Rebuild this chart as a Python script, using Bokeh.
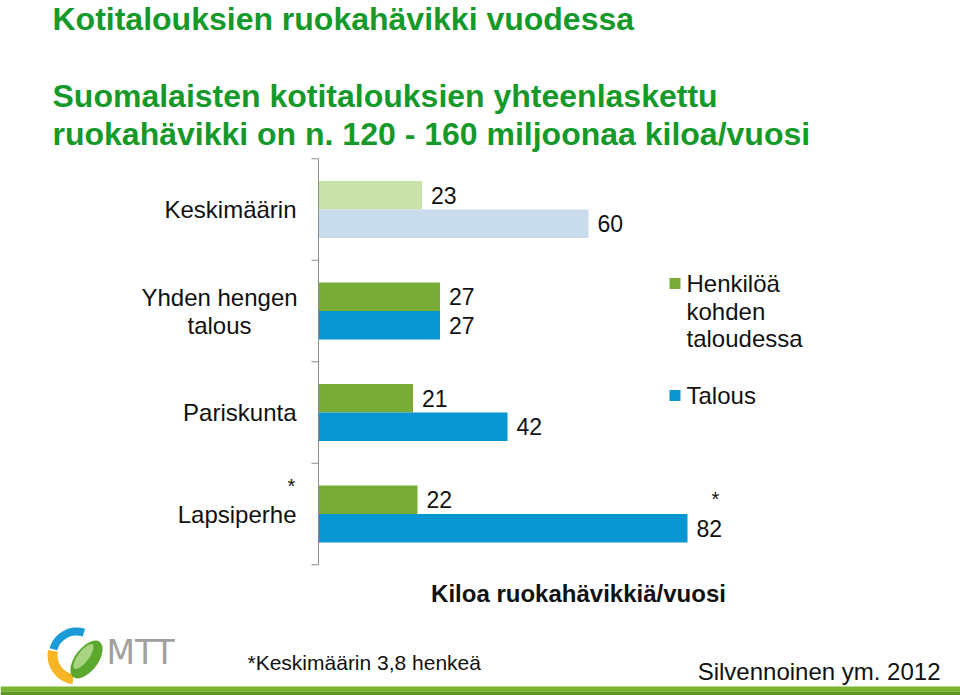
import numpy as np
from bokeh.plotting import figure
from bokeh.models import Range1d
from bokeh.core.properties import value
from bokeh.embed import file_html
from bokeh.resources import INLINE

# ---------------- data ----------------
categories = ["Keskimäärin", "Yhden hengen\ntalous", "Pariskunta", "Lapsiperhe"]
per_person = [23, 27, 21, 22]          # Henkilöä kohden taloudessa
household = [60, 27, 42, 82]           # Talous
category_notes = ["", "", "", "*"]
household_notes = ["", "", "", "*"]
series_names = ["Henkilöä\nkohden\ntaloudessa", "Talous"]
title = "Kotitalouksien ruokahävikki vuodessa"
subtitle = ["Suomalaisten kotitalouksien yhteenlaskettu",
            "ruokahävikki on n. 120 - 160 miljoonaa kiloa/vuosi"]
axis_title = "Kiloa ruokahävikkiä/vuosi"
footnote = "*Keskimäärin 3,8 henkeä"
source = "Silvennoinen ym. 2012"
logo_text = "MTT"

# ---------------- styles ----------------
person_colors = ["#c9e2a9", "#78ac37", "#78ac37", "#78ac37"]
household_colors = ["#c9dcec", "#0896d3", "#0896d3", "#0896d3"]
TITLE_GREEN = "#16992b"
TXT = "#111111"
FONT = value("Liberation Sans")

W, H = 960, 695
AX_PX = 318.0      # pixel x of value 0
PPU = 4.5          # pixels per kilo
CAT0 = 209.0       # pixel y of first category centre
BAND = 101.5       # pixel height of a category band


def X(px):
    return (px - AX_PX) / PPU


def Y(py):
    return (py - CAT0) / BAND


p = figure(width=W, height=H,
           x_range=Range1d(X(0), X(W)), y_range=Range1d(Y(H), Y(0)),
           output_backend="svg", toolbar_location=None,
           x_axis_location=None, y_axis_location=None,
           min_border=0, outline_line_color=None)
p.grid.visible = False
p.background_fill_color = "white"
p.border_fill_color = "white"

n = len(categories)
idx = np.arange(n, dtype=float)
OFF = 0.1405
BH = 0.281

# bars
p.hbar(y=idx - OFF, left=0, right=per_person, height=BH,
       fill_color=person_colors, line_color=None)
p.hbar(y=idx + OFF, left=0, right=household, height=BH,
       fill_color=household_colors, line_color=None)

# value labels
LAB_OFF = 9 / PPU
p.text(x=np.array(per_person) + LAB_OFF, y=idx - OFF, text=[str(v) for v in per_person],
       text_align="left", text_baseline="middle", text_font=FONT,
       text_font_size="23px", text_color=TXT)
p.text(x=np.array(household) + LAB_OFF, y=idx + OFF, text=[str(v) for v in household],
       text_align="left", text_baseline="middle", text_font=FONT,
       text_font_size="23px", text_color=TXT)
for i, note in enumerate(household_notes):
    if note:
        p.text(x=[household[i] + LAB_OFF + 19 / PPU], y=[idx[i] - OFF - 0.01], text=[note],
               text_align="center", text_baseline="middle", text_font=FONT,
               text_font_size="20px", text_color=TXT)

# category axis (line + boundary ticks)
bounds = np.arange(n + 1) - 0.5
p.segment(x0=[0], y0=[bounds[0]], x1=[0], y1=[bounds[-1]], line_color="#8c8c8c", line_width=1)
p.segment(x0=[X(311)] * (n + 1), y0=bounds, x1=[0] * (n + 1), y1=bounds,
          line_color="#8c8c8c", line_width=1)

# category labels
LINE_H = 28 / BAND
for i, cat in enumerate(categories):
    lines = cat.split("\n")
    if len(lines) == 1:
        p.text(x=[X(296)], y=[idx[i]], text=[cat], text_align="right",
               text_baseline="middle", text_font=FONT, text_font_size="24px", text_color=TXT)
    else:
        ys = idx[i] + (np.arange(len(lines)) - (len(lines) - 1) / 2) * LINE_H
        p.text(x=[X(219)] * len(lines), y=ys, text=lines, text_align="center",
               text_baseline="middle", text_font=FONT, text_font_size="24px", text_color=TXT)
    if category_notes[i]:
        p.text(x=[X(291)], y=[idx[i] - 0.28], text=[category_notes[i]], text_align="center",
               text_baseline="middle", text_font=FONT, text_font_size="20px", text_color=TXT)

# legend
leg_colors = [person_colors[1], household_colors[1]]
leg_y = [283, 395]
for name, col, ly in zip(series_names, leg_colors, leg_y):
    p.scatter(x=[X(674.5)], y=[Y(ly)], marker="square", size=11,
              fill_color=col, line_color=None)
    lines = name.split("\n")
    p.text(x=[X(686)] * len(lines), y=[Y(ly + 27.5 * k) for k in range(len(lines))],
           text=lines, text_align="left", text_baseline="middle", text_font=FONT,
           text_font_size="24px", text_color=TXT)

# axis title
p.text(x=[X(578)], y=[Y(593)], text=[axis_title], text_align="center",
       text_baseline="middle", text_font=FONT, text_font_size="24px",
       text_font_style="bold", text_color=TXT)

# titles
p.text(x=[X(52)], y=[Y(18)], text=[title], text_align="left", text_baseline="middle",
       text_font=FONT, text_font_size="32px", text_font_style="bold", text_color=TITLE_GREEN)
p.text(x=[X(52)] * 2, y=[Y(95), Y(133)], text=subtitle, text_align="left",
       text_baseline="middle", text_font=FONT, text_font_size="32px",
       text_font_style="bold", text_color=TITLE_GREEN)

# footer texts
p.text(x=[X(247)], y=[Y(662)], text=[footnote], text_align="left", text_baseline="middle",
       text_font=FONT, text_font_size="21px", text_color=TXT)
p.text(x=[X(940)], y=[Y(671)], text=[source], text_align="right", text_baseline="middle",
       text_font=FONT, text_font_size="24px", text_color=TXT)

# bottom green band
p.quad(left=[X(0)], right=[X(W)], top=[Y(686)], bottom=[Y(691)],
       fill_color="#79b32f", line_color=None)
p.quad(left=[X(0)], right=[X(W)], top=[Y(691)], bottom=[Y(H)],
       fill_color="#5e9a1f", line_color=None)

# logo
cx, cy = X(76), Y(655)
p.annular_wedge(x=[cx], y=[cy], inner_radius=20, outer_radius=28,
                inner_radius_units="screen", outer_radius_units="screen",
                start_angle=np.deg2rad(72), end_angle=np.deg2rad(165),
                fill_color="#1a9ad6", line_color=None)
p.annular_wedge(x=[cx], y=[cy], inner_radius=19, outer_radius=29,
                inner_radius_units="screen", outer_radius_units="screen",
                start_angle=np.deg2rad(169), end_angle=np.deg2rad(262),
                fill_color="#f5b524", line_color=None)
p.ellipse(x=[X(86)], y=[Y(659)], width=23, height=44, angle=np.deg2rad(-37),
          width_units="screen", height_units="screen",
          fill_color="#5aa82e", line_color=None)
p.ellipse(x=[X(83)], y=[Y(656)], width=11, height=30, angle=np.deg2rad(-37),
          width_units="screen", height_units="screen",
          fill_color="#b9dc8f", line_color=None, fill_alpha=0.85)
p.text(x=[X(106)], y=[Y(652)], text=[logo_text], text_align="left", text_baseline="middle",
       text_font=value("DejaVu Sans"), text_font_size="33px", text_color="#a0a0a0")

open("out.html", "w").write(file_html(p, INLINE))
